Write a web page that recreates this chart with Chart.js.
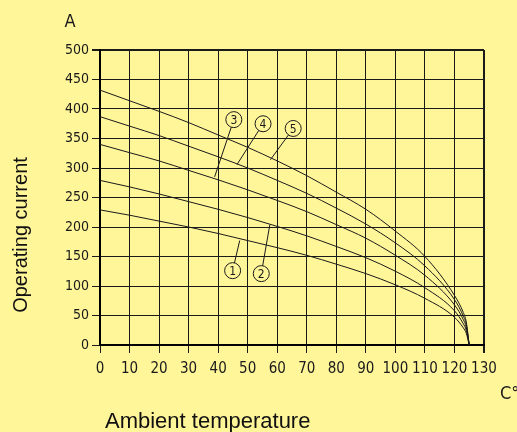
<!DOCTYPE html>
<html>
<head>
<meta charset="utf-8">
<script src="https://cdn.jsdelivr.net/npm/chart.js@4.4.1/dist/chart.umd.min.js"></script>
<style>
  html, body { margin: 0; padding: 0; background: #fff599; }
  #wrap { width: 517px; height: 432px; }
</style>
</head>
<body>
<div id="wrap"><canvas id="deratingChart" width="517" height="432"></canvas></div>
<script>
// ambient temperature (°C) where the curves were read
const temps = [0, 10, 20, 30, 40, 50, 60, 70, 80, 90, 100, 110, 120, 123, 124, 125];

// operating current (A) per curve
const curve1 = [229, 220, 210, 200, 189, 177, 165, 152, 137, 121, 102, 79, 47, 29, 20, 0];
const curve2 = [279, 268, 256, 243, 230, 216, 201, 185, 167, 148, 125, 97, 58, 36, 25, 0];
const curve3 = [340, 326, 312, 296, 280, 263, 245, 226, 204, 181, 152, 118, 68, 43, 30, 0];
const curve4 = [387, 371, 355, 337, 319, 300, 279, 257, 232, 205, 173, 134, 77, 49, 35, 0];
const curve5 = [432, 414, 396, 377, 356, 335, 312, 287, 259, 230, 193, 150, 84, 55, 39, 0];

const curveNames = ['1', '2', '3', '4', '5'];

// numbered callouts: circle centre and the point on the curve (data units)
const calloutX = [44.9, 54.6, 45.3, 55.2, 65.4];
const calloutY = [126, 121, 382, 375, 367];
const calloutTipX = [47.3, 57.5, 38.8, 46.4, 57.7];
const calloutTipY = [177, 204, 285, 306, 314];

const xTicks = [0, 10, 20, 30, 40, 50, 60, 70, 80, 90, 100, 110, 120, 130];
const yTicks = [0, 50, 100, 150, 200, 250, 300, 350, 400, 450, 500];

const narrowFont = '"Liberation Sans Narrow", "DejaVu Sans Condensed", sans-serif';
const inkColor = '#1a1a1a';

function toPoints(values) {
    return temps.map((t, i) => ({ x: t, y: values[i] }));
}

// Texte, Achsenbeschriftung und Kreise mit Nummern
const decorPlugin = {
    id: 'decor',
    afterDatasetsDraw(chart) {
        const ctx = chart.ctx;
        const xs = chart.scales.x;
        const ys = chart.scales.y;
        ctx.save();
        ctx.strokeStyle = inkColor;
        ctx.fillStyle = inkColor;
        ctx.lineWidth = 1;
        const r = 8;
        for (let i = 0; i < curveNames.length; i++) {
            const cx = xs.getPixelForValue(calloutX[i]);
            const cy = ys.getPixelForValue(calloutY[i]);
            const tx = xs.getPixelForValue(calloutTipX[i]);
            const ty = ys.getPixelForValue(calloutTipY[i]);
            const len = Math.hypot(tx - cx, ty - cy);
            ctx.beginPath();
            ctx.arc(cx, cy, r, 0, Math.PI * 2);
            ctx.stroke();
            ctx.beginPath();
            ctx.moveTo(cx + (tx - cx) / len * r, cy + (ty - cy) / len * r);
            ctx.lineTo(tx, ty);
            ctx.stroke();
            ctx.font = '12px ' + narrowFont;
            ctx.textAlign = 'center';
            ctx.textBaseline = 'middle';
            ctx.fillText(curveNames[i], cx, cy + 1);
        }
        ctx.restore();
    },
    afterDraw(chart) {
        const ctx = chart.ctx;
        ctx.save();
        ctx.fillStyle = inkColor;
        ctx.font = '18px ' + narrowFont;
        ctx.textAlign = 'center';
        ctx.textBaseline = 'middle';
        ctx.fillText('A', 70, 22);
        ctx.textAlign = 'left';
        ctx.fillText('C°', 500, 394);

        ctx.fillStyle = '#111';
        ctx.font = '22px "Liberation Sans", Arial, sans-serif';
        ctx.textAlign = 'left';
        ctx.textBaseline = 'alphabetic';
        ctx.fillText('Ambient temperature', 105, 428);

        ctx.font = '20px "Liberation Sans", Arial, sans-serif';
        ctx.translate(27, 235);
        ctx.rotate(-Math.PI / 2);
        ctx.textAlign = 'center';
        ctx.fillText('Operating current', 0, 0);
        ctx.restore();
    }
};

function initDeratingChart() {
    const ctx = document.getElementById('deratingChart').getContext('2d');
    const series = [curve1, curve2, curve3, curve4, curve5];
    return new Chart(ctx, {
        type: 'line',
        data: {
            datasets: series.map((values, i) => ({
                label: curveNames[i],
                data: toPoints(values),
                borderColor: inkColor,
                borderWidth: 1,
                pointRadius: 0,
                fill: false,
                cubicInterpolationMode: 'monotone'
            }))
        },
        options: {
            responsive: false,
            animation: false,
            layout: { padding: { left: 0, right: 33, top: 50, bottom: 47 } },
            plugins: {
                legend: { display: false },
                tooltip: { enabled: false }
            },
            scales: {
                x: {
                    type: 'linear',
                    min: 0,
                    max: 130,
                    afterBuildTicks: (scale) => { scale.ticks = xTicks.map(v => ({ value: v })); },
                    afterFit: (scale) => { scale.height = 40; },
                    ticks: {
                        color: inkColor,
                        padding: 7,
                        autoSkip: false,
                        font: { family: narrowFont, size: 15 },
                        maxRotation: 0
                    },
                    grid: {
                        color: inkColor,
                        tickColor: inkColor,
                        tickLength: 8,
                        lineWidth: (c) => (c.tick && c.tick.value === 130 ? 2 : 1)
                    },
                    border: { color: '#000', width: 2 }
                },
                y: {
                    min: 0,
                    max: 500,
                    afterBuildTicks: (scale) => { scale.ticks = yTicks.map(v => ({ value: v })); },
                    afterFit: (scale) => { scale.width = 100; },
                    ticks: {
                        color: inkColor,
                        padding: 3,
                        autoSkip: false,
                        font: { family: narrowFont, size: 14 }
                    },
                    grid: {
                        color: inkColor,
                        tickColor: inkColor,
                        tickLength: 8,
                        lineWidth: (c) => (c.tick && c.tick.value === 500 ? 2 : 1)
                    },
                    border: { color: '#000', width: 2 }
                }
            }
        },
        plugins: [decorPlugin]
    });
}

initDeratingChart();
</script>
</body>
</html>
